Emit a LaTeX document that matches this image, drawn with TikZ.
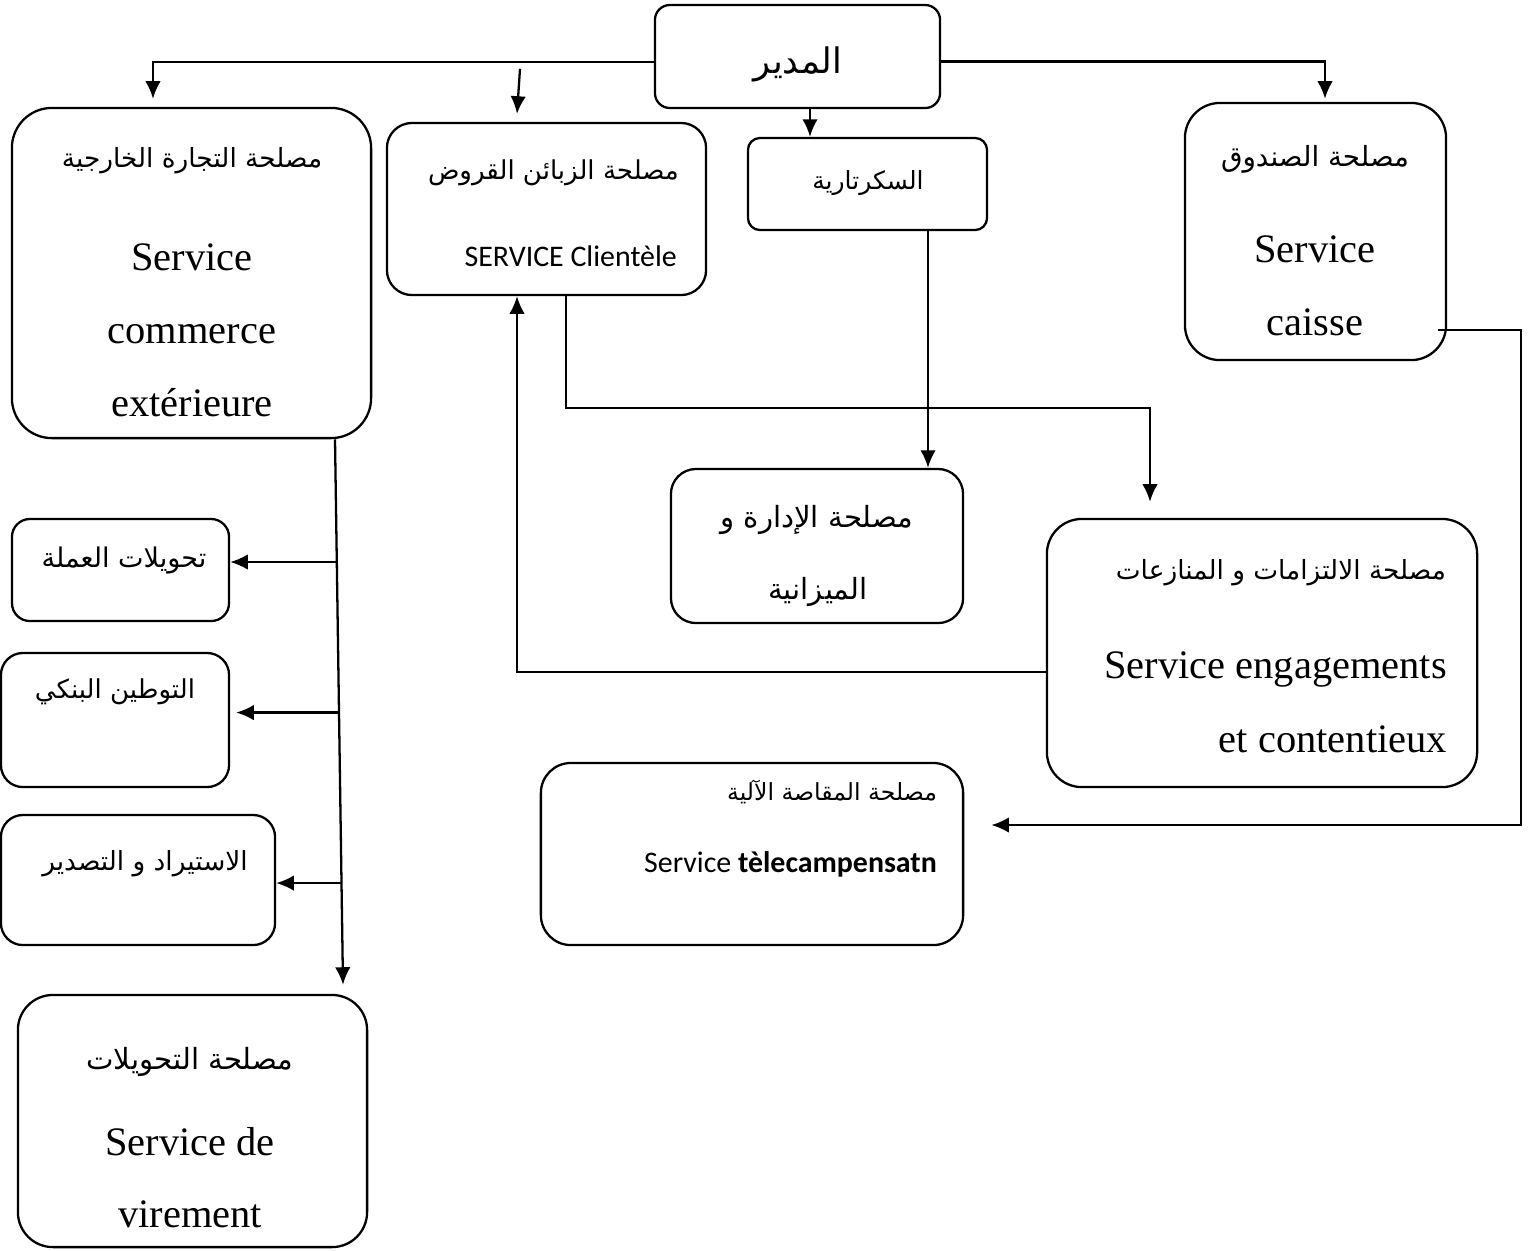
\documentclass[tikz,border=0pt]{standalone}
\usepackage{fontspec}
\setmainfont{Liberation Serif}
\newfontfamily\arabicfont[Script=Arabic]{DejaVu Sans}
\newfontfamily\calfont{Carlito}
\TeXXeTstate=1
\usetikzlibrary{arrows.meta,calc,positioning}

\begin{document}
\begin{tikzpicture}[x=0.01cm,y=-0.01cm,>={Latex[length=5pt,width=4.4pt]},line width=0.65pt]
    \tikzset{block/.style={
      draw,
      rectangle,
      inner sep=0pt
    }};
    \tikzset{ar/.style={font=\arabicfont\fontsize{#1}{#1}\selectfont, inner sep=0pt}};
    \tikzset{serif/.style={font=\fontsize{11.5}{12}\selectfont, inner sep=0pt, anchor=base}};
    \tikzset{cal/.style={font=\calfont\fontsize{8.5}{9}\selectfont, inner sep=0pt}};

    \useasboundingbox (0,0) rectangle (1531,1250);

    \node [block, minimum width=2.85cm, minimum height=1.03cm, rounded corners=0.15cm] (director) at (797.5,56.5) {};
    \node [block, minimum width=3.59cm, minimum height=3.3cm, rounded corners=0.4cm] (commerce) at (191.5,273) {};
    \node [block, minimum width=3.19cm, minimum height=1.72cm, rounded corners=0.25cm] (clientele) at (546.5,209) {};
    \node [block, minimum width=2.39cm, minimum height=0.92cm, rounded corners=0.12cm] (secretariat) at (867.5,184) {};
    \node [block, minimum width=2.61cm, minimum height=2.57cm, rounded corners=0.35cm] (caisse) at (1315.5,231.5) {};
    \node [block, minimum width=2.92cm, minimum height=1.54cm, rounded corners=0.25cm] (budget) at (817,546) {};
    \node [block, minimum width=4.3cm, minimum height=2.68cm, rounded corners=0.35cm] (engagement) at (1262,653) {};
    \node [block, minimum width=4.22cm, minimum height=1.82cm, rounded corners=0.3cm] (compensation) at (752,854) {};
    \node [block, minimum width=2.17cm, minimum height=1.02cm, rounded corners=0.18cm] (devises) at (120.5,570) {};
    \node [block, minimum width=2.28cm, minimum height=1.34cm, rounded corners=0.22cm] (domiciliation) at (115,720) {};
    \node [block, minimum width=2.74cm, minimum height=1.3cm, rounded corners=0.22cm] (importexport) at (138,880) {};
    \node [block, minimum width=3.49cm, minimum height=2.52cm, rounded corners=0.35cm] (virement) at (192.5,1121) {};

    \node [ar=10] (directorname) at (798,64) {\beginR المدير\endR};
    \node [ar=7.5] (commerceAr) at (192,161) {\beginR مصلحة التجارة الخارجية\endR};
    \node [serif] (commerceA) at (192,270) {Service};
    \node [serif] (commerceB) at (192,343) {commerce};
    \node [serif] (commerceC) at (192,416) {extérieure};
    \node [ar=7.4, anchor=east] (clienteleAr) at (680,173) {\beginR مصلحة الزبائن القروض\endR};
    \node [cal, anchor=base east] (clienteleFr) at (678,266) {SERVICE Clientèle};
    \node [ar=7.1] (secretariatAr) at (868,183) {\beginR السكرتارية\endR};
    \node [ar=7.9] (caisseAr) at (1315,159) {\beginR مصلحة الصندوق\endR};
    \node [serif] (caisseA) at (1315,262) {Service};
    \node [serif] (caisseB) at (1315,335) {caisse};
    \node [ar=8.3] (budgetA) at (817,520) {\beginR مصلحة الإدارة و\endR};
    \node [ar=8.3] (budgetB) at (818,592) {\beginR الميزانية\endR};
    \node [ar=7.5, anchor=east] (engagementAr) at (1447,573) {\beginR مصلحة الالتزامات و المنازعات\endR};
    \node [serif, anchor=base east] (engagementA) at (1448,678) {Service engagements};
    \node [serif, anchor=base east] (engagementB) at (1448,752) {et contentieux};
    \node [ar=6.7, anchor=east] (compensationAr) at (938,792) {\beginR مصلحة المقاصة الآلية\endR};
    \node [cal, anchor=base east] (compensationFr) at (938,872) {Service \textbf{tèlecampensatn}};
    \node [ar=7.7] (devisesAr) at (124,560) {\beginR تحويلات العملة\endR};
    \node [ar=7.4] (domiciliationAr) at (115,692) {\beginR التوطين البنكي\endR};
    \node [ar=7.5] (importexportAr) at (145,864) {\beginR الاستيراد و التصدير\endR};
    \node [ar=8.3] (virementAr) at (190,1062) {\beginR مصلحة التحويلات\endR};
    \node [serif] (virementA) at (190,1155) {Service de};
    \node [serif] (virementB) at (190,1227) {virement};

    \coordinate (clienteleIn) at ($(clientele.north)+(-26.5,-53)$);
    \coordinate (secretariatIn) at ($(director.south)+(12.5,0)$);
    \coordinate (budgetIn) at ($(secretariat.south)+(60.5,0)$);
    \coordinate (trunkTop) at ($(commerce.south)+(143.5,0)$);
    \coordinate (trunkEnd) at ($(virement.north)+(150.5,-9)$);
    \coordinate (branchA) at ($(trunkTop)!0.225!(trunkEnd)$);
    \coordinate (branchB) at ($(trunkTop)!0.501!(trunkEnd)$);
    \coordinate (branchC) at ($(trunkTop)!0.8135!(trunkEnd)$);

    \path[draw,->] ($(director.west)+(0,5.5)$) -| ($(commerce.north)+(-38.5,-8)$);
    \path[draw,->] (clienteleIn) -- ($(clientele.north)+(-29.5,-8)$);
    \path[draw,->] (secretariatIn) -- (secretariatIn |- secretariat.north);
    \path[draw,->] ($(director.east)+(0,5)$) -| ($(caisse.north)+(9.5,-3)$);
    \path[draw,->] ($(clientele.south)+(19.5,0)$) -- ++(0,112) -| ($(engagement.north)+(-112,-16)$);
    \path[draw,->] (budgetIn) -- (budgetIn |- budget.north);
    \path[draw,->] ($(engagement.west)+(0,19)$) -| ($(clientele.south)+(-29.5,0)$);
    \path[draw,->] ($(caisse.east)+(-9,98.5)$) -- ++(83,0) |- ($(compensation.east)+(27,-29)$);

    \path[draw,->] (trunkTop) -- (trunkEnd);
    \path[draw,->] (branchA) -- (branchA -| devises.east);
    \path[draw,->,shorten >=1.7pt] (branchB) -- (branchB -| domiciliation.east);
    \path[draw,->] (branchC) -- (branchC -| importexport.east);
\end{tikzpicture}
\end{document}
